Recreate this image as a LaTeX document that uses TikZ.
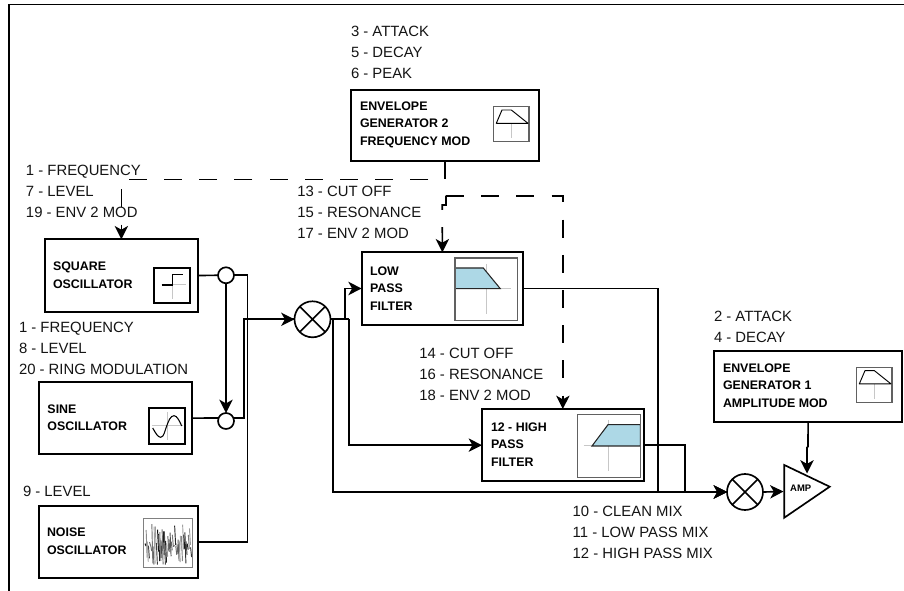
\documentclass[tikz,border=0pt]{standalone}
\usepackage{fontspec}
\setmainfont{Liberation Sans}
\usetikzlibrary{arrows.meta,calc}
\definecolor{filt}{HTML}{ADD8E6}
\tikzset{
  x=0.75pt,y=-0.75pt,
  wire/.style={line width=1.25pt,line join=miter},
  tip/.style={-{Stealth[length=10pt,width=10pt,inset=2.8pt]}},
  dashwire/.style={wire,dash pattern=on 13.5pt off 12.9pt},
  box/.style={draw,line width=1.25pt,inner sep=0pt,outer sep=0pt,anchor=north west},
  sz/.style 2 args={minimum width=#1*0.75pt,minimum height=#2*0.75pt},
  lbl/.style={anchor=west,inner sep=0pt,outer sep=0pt,align=left,text=black!92,font=\fontsize{11.15pt}{15.75pt}\selectfont},
  ttl/.style={anchor=west,inner sep=0pt,outer sep=0pt,align=left,font=\fontsize{9.3pt}{13.2pt}\selectfont\bfseries},
  joint/.style={draw,circle,line width=1.25pt,inner sep=0pt,outer sep=0pt,minimum size=12pt},
  mix/.style={draw,circle,line width=1.25pt,inner sep=0pt,outer sep=0pt,minimum size=27pt},
  ghost/.style={draw=black!22,line width=0.75pt},
  iconframe/.style={draw=black!62,line width=0.9pt},
  envpic/.pic={
    \draw[iconframe] (0,0) rectangle (35.3,35);
    \draw[ghost] (17.6,16.6) -- (17.6,31.5);
    \draw[line width=0.7pt,line join=round] (2.6,16.6) -- (8.3,3.3) -- (17.6,3.3) -- (34.3,16.6) -- cycle;
  }
}
\begin{document}
\begin{tikzpicture}
\useasboundingbox (0,0) rectangle (904,591);
% frame
\draw[wire] (904,4.5) -- (9,4.5) -- (9,591);

% boxes
\node[box,sz={188}{71}] (eg2) at (351,90) {};
\node[box,sz={152.7}{72.4}] (sq) at (45,239.3) {};
\node[box,sz={152.7}{71.7}] (sine) at (39.3,382.3) {};
\node[box,sz={159.3}{72}] (noise) at (38.7,506) {};
\node[box,sz={161.3}{72.4}] (low) at (361.7,252.3) {};
\node[box,sz={161.7}{72.3}] (high) at (482,409) {};
\node[box,sz={188.3}{70.7}] (eg1) at (714,351) {};

% box titles
\node[ttl] (teg2) at (360,124.7) {ENVELOPE\\GENERATOR 2\\FREQUENCY MOD};
\node[ttl] (tsq) at (53,275.3) {SQUARE\\OSCILLATOR};
\node[ttl] (tsine) at (47.5,417.7) {SINE\\OSCILLATOR};
\node[ttl] (tnoise) at (47,541) {NOISE\\OSCILLATOR};
\node[ttl] (tlow) at (370,288.3) {LOW\\PASS\\FILTER};
\node[ttl] (thigh) at (491,444.3) {12 - HIGH\\PASS\\FILTER};
\node[ttl] (teg1) at (723,385.7) {ENVELOPE\\GENERATOR 1\\AMPLITUDE MOD};

% labels
\node[lbl] (leg2) at (351,52) {3 - ATTACK\\5 - DECAY\\6 - PEAK};
\node[lbl] (lsq) at (26,191) {1 - FREQUENCY\\7 - LEVEL\\19 - ENV 2 MOD};
\node[lbl] (lsine) at (19,348) {1 - FREQUENCY\\8 - LEVEL\\20 - RING MODULATION};
\node[lbl] (lnoise) at (23,491) {9 - LEVEL};
\node[lbl] (llow) at (297.3,212.5) {13 - CUT OFF\\15 - RESONANCE\\17 - ENV 2 MOD};
\node[lbl] (lhigh) at (419.3,374.7) {14 - CUT OFF\\16 - RESONANCE\\18 - ENV 2 MOD};
\node[lbl] (leg1) at (714,326.5) {2 - ATTACK\\4 - DECAY};
\node[lbl] (lmix) at (572.7,532) {10 - CLEAN MIX\\11 - LOW PASS MIX\\12 - HIGH PASS MIX};

% icons
\pic at (493.7,106.7) {envpic};
\pic at (856.7,367.3) {envpic};

% square icon
\draw[ghost] (172.3,274) -- (172.3,299) (161.7,285) -- (186,285);
\draw[line width=0.8pt] (161.7,285) -- (172.3,285) -- (172.3,274.3) -- (182.7,274.3);
\draw[line width=1.25pt] (154,267.7) rectangle (190,303.3);

% sine icon
\draw[ghost] (167,412) -- (167,440) (152,426) -- (183,426);
\draw[line width=0.8pt] (152.7,428) .. controls (155.5,433) and (158,437.3) .. (160.7,437.3)
  .. controls (164,437.3) and (165,430) .. (166.7,426)
  .. controls (168.5,421) and (170.5,415.7) .. (174,415.7)
  .. controls (177,415.7) and (179.5,421) .. (181.7,426);
\draw[line width=1.25pt] (149,408.3) rectangle (185,444);

% noise icon
\begin{scope}
\clip (143.3,518.7) rectangle (192.7,567.3);
\pgfmathsetseed{4711}
\foreach \i in {0,...,40}{
  \pgfmathsetmacro{\xa}{145+\i*1.14}
  \pgfmathsetmacro{\ya}{524+rnd*24}
  \pgfmathsetmacro{\yb}{544+rnd*21}
  \pgfmathsetmacro{\gr}{int(35+rnd*60)}
  \draw[black!\gr,line width=0.7pt] (\xa,\ya) -- (\xa+1,\yb);
}
\end{scope}
\draw[iconframe,draw=black!50] (143.3,518.7) rectangle (192.7,567.3);

% low pass icon
\draw[ghost] (486,264) -- (486,314) (455,288.7) -- (511,288.7);
\draw[fill=filt,line width=0.8pt,draw=black!85] (455,268) -- (483.3,268) -- (500.3,288.7) -- (455,288.7) -- cycle;
\draw[iconframe] (455,258) rectangle (517.7,320.3);

% high pass icon
\draw[ghost] (608.7,420) -- (608.7,470.7) (583.7,446) -- (592,446);
\draw[fill=filt,line width=0.8pt,draw=black!85] (592,446) -- (608,424.7) -- (640.3,424.7) -- (640.3,446) -- cycle;
\draw[iconframe] (577.7,414.7) rectangle (640.3,477.3);

% summing points
\node[joint] (c1) at (226,275.3) {};
\node[joint] (c2) at (226,421) {};
\node[mix] (m1) at (312.5,319.3) {};
\node[mix] (m2) at (745,492) {};
\draw[line width=1.25pt] (m1.45) -- (m1.225) (m1.135) -- (m1.315);
\draw[line width=1.25pt] (m2.45) -- (m2.225) (m2.135) -- (m2.315);

% amplifier
\coordinate (ampa) at (784.3,465);
\coordinate (ampb) at (784.3,517.7);
\coordinate (ampc) at (829.7,486.7);
\draw[line width=1.25pt,line join=miter] (ampa) -- (ampc) -- (ampb) -- cycle;
\node[anchor=center,inner sep=0pt,font=\fontsize{7.1pt}{8pt}\selectfont\bfseries] (amp) at (800.7,488.7) {AMP};
\coordinate (ampin) at (783.5,491.5);
\coordinate (amptop) at (807,473.5);

% solid connectors
\coordinate (j) at (247.5,319.3);
\coordinate (s) at (244,319.3);
\draw[wire] (sq.east) -- (c1.west);
\draw[wire,tip] (c1.south) -- (c2.north);
\draw[wire] (sine.east) -- (c2.158);
\draw[wire,tip] (c2.22) -| (s) -- (m1.west);
\draw[wire] (c1.east) -| (j);
\draw[wire] (noise.east) -| (j);
\draw[wire] (j) -- (m1.west);
\coordinate (o1) at (349,319.3);
\coordinate (o2) at (345.3,319.3);
\coordinate (o3) at (333,319.3);
\draw[wire] (m1.east) -- (o1);
\draw[wire,tip] (o2) |- (low.west);
\draw[wire,tip] (o1) |- (high.west);
\coordinate (mixl) at (658.3,492);
\coordinate (mixh) at (685.3,492);
\draw[wire,tip] (o3) |- (m2.west);
\draw[wire,tip] (low.east) -| (mixl) -- (m2.west);
\draw[wire,tip] (high.east) -| (mixh) -- (m2.west);
\draw[wire,tip] (m2.east) -- (ampin);
\coordinate (egj) at (808,447);
\draw[wire] (eg1.south) -- (egj);
\draw[wire,tip] (egj) -- (807,447.5) -- (amptop);

% dashed connectors
\draw[dashwire,tip] (eg2.south) -- ++(0,18.5) -| (sq.north);
\coordinate (br) at (446,195.7);
\draw[dashwire,tip] (br) -| (high.north);
\draw[dashwire,tip] (br) -- (446,205) -- (442.3,205) -- (low.north);
\end{tikzpicture}
\end{document}
